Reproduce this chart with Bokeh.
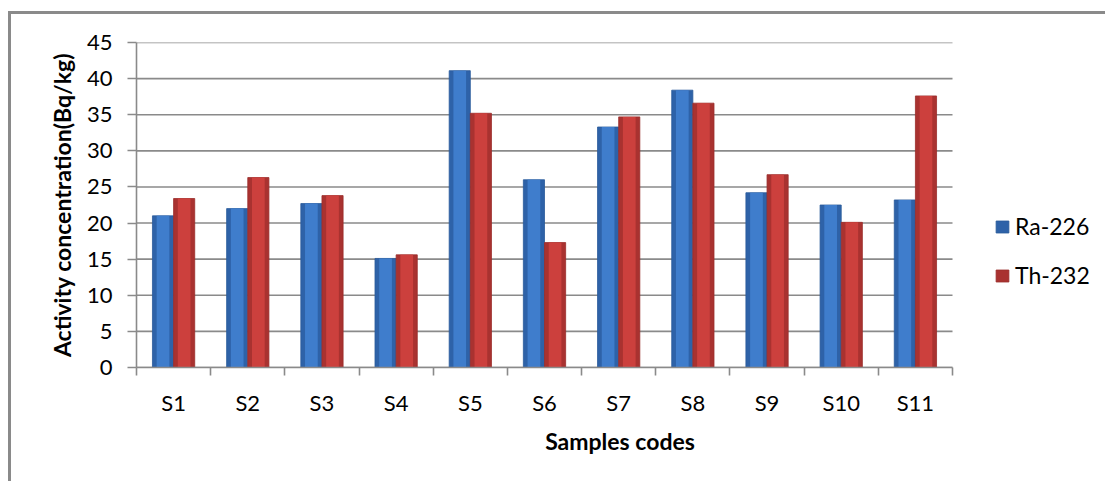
from bokeh.plotting import figure
from bokeh.models import (ColumnDataSource, Range1d, LinearAxis, FixedTicker,
                          Legend, LegendItem)
from bokeh.embed import file_html
from bokeh.resources import INLINE

samples = ["S1", "S2", "S3", "S4", "S5", "S6", "S7", "S8", "S9", "S10", "S11"]
ra226 = [21.0, 22.0, 22.7, 15.1, 41.1, 26.0, 33.3, 38.4, 24.2, 22.5, 23.2]
th232 = [23.4, 26.3, 23.8, 15.6, 35.2, 17.3, 34.7, 36.6, 26.7, 20.1, 37.6]
y_ticks = [0, 5, 10, 15, 20, 25, 30, 35, 40, 45]

n = len(samples)
pos = [i + 1 for i in range(n)]
bounds = [i + 0.5 for i in range(n + 1)]
BW = 0.285
src = ColumnDataSource(dict(
    x_ra=[p - BW / 2 for p in pos], x_th=[p + BW / 2 for p in pos],
    ra=ra226, th=th232))
grid_src = ColumnDataSource(dict(x0=[bounds[0]] * len(y_ticks),
                                 x1=[bounds[-1]] * len(y_ticks), y=y_ticks))

FONT = "Lato"
GRID = "#8a8a8a"

FIG_W, FIG_H = 1097, 470
LEFT, RIGHT, TOP, BOTTOM = 125, 5, 28, 117
cat_px = (952 - 136) / n
x_end = bounds[0] + (FIG_W - LEFT - RIGHT) / cat_px

p = figure(width=FIG_W, height=FIG_H, output_backend="svg", toolbar_location=None,
           x_range=Range1d(bounds[0], x_end), y_range=Range1d(0, 45),
           x_axis_location=None, y_axis_location=None,
           min_border_left=LEFT, min_border_right=RIGHT,
           min_border_top=TOP, min_border_bottom=BOTTOM)
p.margin = (11, 0, 0, 8)
p.styles = {"border-top": "3px solid #8a8a8a", "border-left": "3px solid #8a8a8a"}
p.outline_line_color = None
p.xgrid.visible = False
p.ygrid.visible = False

p.segment(x0="x0", x1="x1", y0="y", y1="y", source=grid_src,
          line_color=GRID, line_width=1.6)

r_ra = p.vbar(x="x_ra", top="ra", width=BW, source=src,
              fill_color="#2E62A8", line_color="#2A5A9A", line_width=0.8)
p.vbar(x="x_ra", top="ra", width=BW * 0.6, source=src,
       fill_color="#3F7DCC", line_color=None)
r_th = p.vbar(x="x_th", top="th", width=BW, source=src,
              fill_color="#A93230", line_color="#9A2D2B", line_width=0.8)
p.vbar(x="x_th", top="th", width=BW * 0.6, source=src,
       fill_color="#CC403D", line_color=None)

yax = LinearAxis(ticker=FixedTicker(ticks=y_ticks),
                 axis_label="Activity concentration(Bq/kg)")
yax.axis_line_color = GRID
yax.axis_line_width = 1.6
yax.major_tick_line_color = GRID
yax.major_tick_line_width = 1.6
yax.major_tick_out = 9
yax.major_tick_in = 0
yax.minor_tick_line_color = None
yax.major_label_text_font = FONT
yax.major_label_text_font_size = "22px"
yax.major_label_text_color = "#000000"
yax.major_label_standoff = 15
yax.axis_label_text_font = FONT
yax.axis_label_text_font_style = "bold"
yax.axis_label_text_font_size = "23px"
yax.axis_label_text_color = "#000000"
yax.axis_label_standoff = 8
p.add_layout(yax, "left")

xax = LinearAxis(ticker=FixedTicker(ticks=pos, minor_ticks=bounds),
                 bounds=(bounds[0], bounds[-1]),
                 major_label_overrides={pp: s for pp, s in zip(pos, samples)},
                 axis_label="Samples codes")
xax.axis_line_color = GRID
xax.axis_line_width = 1.6
xax.major_tick_line_color = None
xax.major_tick_out = 0
xax.major_tick_in = 0
xax.minor_tick_line_color = GRID
xax.minor_tick_line_width = 1.6
xax.minor_tick_out = 8
xax.minor_tick_in = 0
xax.major_label_text_font = FONT
xax.major_label_text_font_size = "22px"
xax.major_label_text_color = "#000000"
xax.major_label_standoff = 13
xax.axis_label_text_font = FONT
xax.axis_label_text_font_style = "bold"
xax.axis_label_text_font_size = "23px"
xax.axis_label_text_color = "#000000"
xax.axis_label_standoff = 8
p.add_layout(xax, "below")

legend = Legend(items=[LegendItem(label="Ra-226", renderers=[r_ra]),
                       LegendItem(label="Th-232", renderers=[r_th])],
                location=(858, 78))
legend.border_line_color = None
legend.background_fill_alpha = 0
legend.padding = 0
legend.margin = 0
legend.spacing = 21
legend.label_height = 28
legend.glyph_height = 15
legend.glyph_width = 16
legend.label_standoff = 5
legend.label_text_font = FONT
legend.label_text_font_size = "23px"
legend.label_text_color = "#000000"
p.add_layout(legend, "center")

open("out.html", "w").write(file_html(p, INLINE))
